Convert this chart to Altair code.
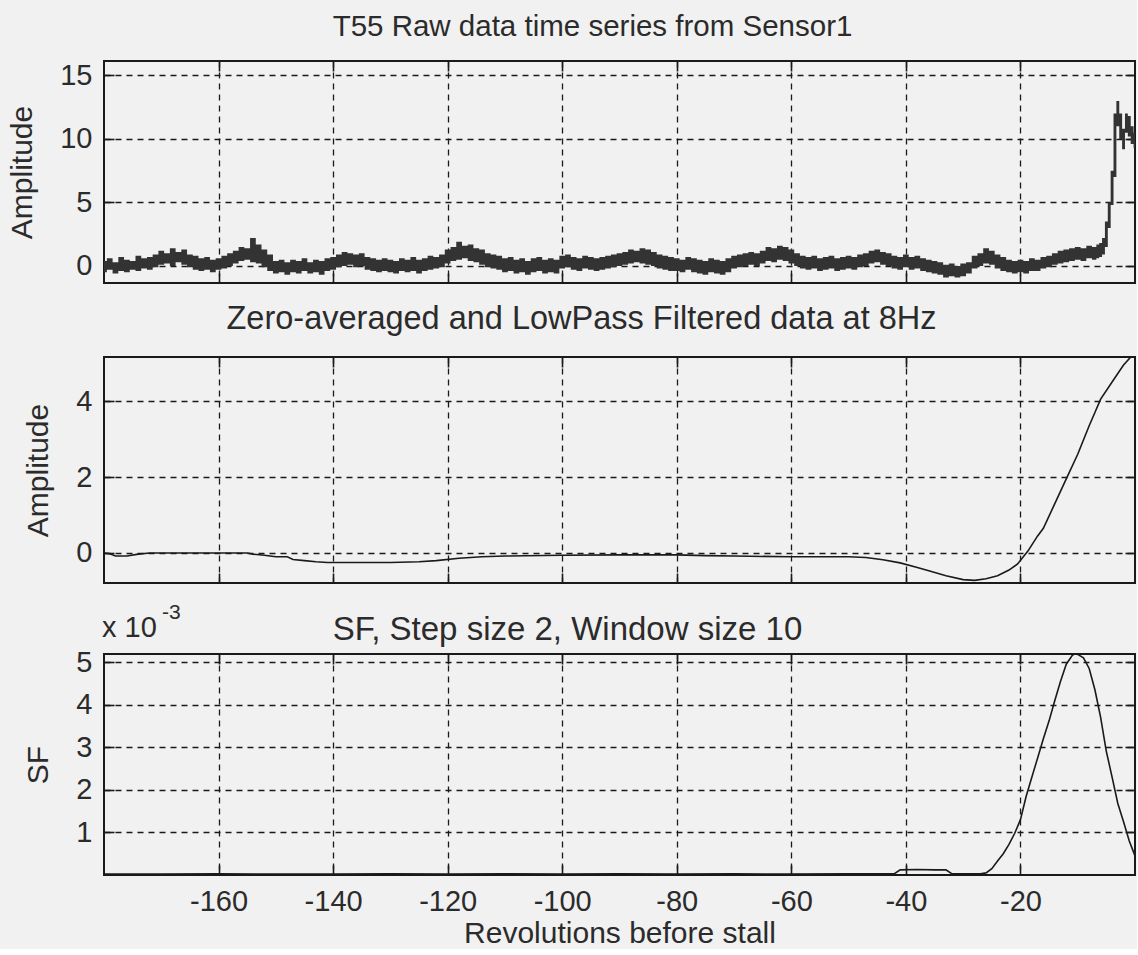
import altair as alt
import pandas as pd

# ---------------- data ----------------
# Panel 1: raw noisy trace, drawn as min/max envelope per revolution
REV1 = list(range(-180, -6)) + [-6.5, -6, -5.5, -5, -4.5, -4, -3.5, -3, -2.5, -2, -1.5, -1, -0.5, 0]
HI1 = [
    0.4, 0.6, 0.3, 0.7, 0.5, 0.4, 0.8, 0.6, 0.7, 0.9,
    1.2, 1.0, 1.4, 1.1, 1.3, 0.9, 0.8, 0.6, 0.7, 0.5,
    0.6, 0.8, 1.0, 1.2, 1.5, 1.4, 2.2, 1.7, 1.3, 0.9,
    0.4, 0.5, 0.3, 0.5, 0.4, 0.6, 0.3, 0.5, 0.4, 0.6,
    0.7, 0.9, 1.1, 1.0, 0.9, 1.0, 0.7, 0.6, 0.5, 0.6,
    0.5, 0.4, 0.6, 0.5, 0.7, 0.5, 0.6, 0.8, 0.7, 0.9,
    1.3, 1.5, 1.9, 1.6, 1.7, 1.4, 1.3, 1.0, 0.9, 0.8,
    0.6, 0.7, 0.5, 0.6, 0.4, 0.6, 0.7, 0.5, 0.6, 0.5,
    0.8, 0.9, 0.7, 0.6, 0.8, 0.7, 0.6, 0.7, 0.8, 0.9,
    1.0, 1.1, 1.3, 1.2, 1.4, 1.3, 1.1, 0.9, 0.8, 0.7,
    0.6, 0.5, 0.7, 0.6, 0.5, 0.4, 0.6, 0.5, 0.4, 0.6,
    0.8, 0.9, 1.0, 1.1, 1.0, 1.2, 1.5, 1.4, 1.6, 1.5,
    1.3, 1.0, 0.8, 0.7, 0.8, 0.6, 0.7, 0.8, 0.6, 0.7,
    0.8, 0.7, 0.9, 1.0, 1.2, 1.3, 1.1, 1.0, 0.8, 0.7,
    0.9, 0.7, 0.8, 0.6, 0.5, 0.4, 0.3, 0.1, 0.2, 0.0,
    0.2, 0.3, 0.8, 1.0, 1.4, 1.2, 0.9, 0.7, 0.5, 0.4,
    0.5, 0.4, 0.6, 0.5, 0.7, 0.8, 1.0, 1.2, 1.3, 1.4,
    1.5, 1.4, 1.6, 1.5,
    1.7, 1.8, 2.2, 3.5, 5.0, 7.5, 12.0, 13.0, 12.0, 10.8, 12.0, 11.8, 11.0, 10.5,
]
LO1 = [
    -0.5, -0.3, -0.6, -0.4, -0.5, -0.3, -0.4, -0.2, -0.3, -0.1,
    0.1, 0.2, 0.0, 0.3, 0.1, -0.1, -0.3, -0.4, -0.3, -0.5,
    -0.3, -0.2, 0.0, 0.2, 0.4, 0.5, 0.3, 0.2, -0.1, -0.4,
    -0.6, -0.5, -0.7, -0.5, -0.6, -0.4, -0.6, -0.5, -0.7, -0.4,
    -0.3, -0.1, 0.0, 0.1, -0.1, 0.0, -0.3, -0.4, -0.5, -0.4,
    -0.5, -0.6, -0.4, -0.5, -0.4, -0.6, -0.4, -0.3, -0.2, -0.1,
    0.2, 0.4, 0.5, 0.6, 0.4, 0.3, 0.1, -0.1, -0.2, -0.3,
    -0.5, -0.4, -0.6, -0.5, -0.7, -0.5, -0.4, -0.6, -0.5, -0.6,
    -0.2, -0.1, -0.3, -0.4, -0.2, -0.3, -0.4, -0.3, -0.2, -0.1,
    0.0, 0.1, 0.2, 0.3, 0.2, 0.1, 0.0, -0.2, -0.3, -0.4,
    -0.4, -0.5, -0.3, -0.5, -0.6, -0.7, -0.5, -0.6, -0.7, -0.5,
    -0.2, -0.1, 0.0, 0.1, 0.0, 0.2, 0.4, 0.3, 0.5, 0.4,
    0.2, 0.0, -0.2, -0.3, -0.2, -0.4, -0.3, -0.2, -0.4, -0.3,
    -0.2, -0.3, -0.1, 0.0, 0.2, 0.3, 0.1, 0.0, -0.2, -0.3,
    -0.1, -0.3, -0.2, -0.4, -0.5, -0.6, -0.7, -0.9, -0.8, -0.9,
    -0.8, -0.6, -0.2, 0.0, 0.2, 0.1, -0.2, -0.4, -0.5, -0.6,
    -0.5, -0.6, -0.4, -0.4, -0.2, -0.1, 0.1, 0.2, 0.3, 0.4,
    0.5, 0.4, 0.6, 0.5,
    0.6, 0.7, 0.9, 1.5, 3.0, 4.8, 7.0, 11.0, 10.0, 9.2, 10.5, 10.2, 9.6, 9.3,
]

# Panel 2: zero-averaged, low-pass filtered trace
REV2 = [-180, -179, -178, -176, -174, -172, -170, -160, -155, -154, -152, -150, -148, -147,
        -145, -143, -141, -130, -125, -122, -118, -114, -110, -100, -90, -80, -75, -70, -60,
        -55, -50, -47, -44, -41, -38, -36, -33, -30, -28, -26, -24, -22, -20.5, -18.7, -17,
        -16, -14, -12, -10, -8, -7, -6, -4, -2, -0.5]
AMP2 = [0.0, -0.02, -0.08, -0.08, -0.03, 0.0, 0.0, 0.0, 0.0, -0.03, -0.06, -0.1, -0.1, -0.17,
        -0.2, -0.23, -0.25, -0.25, -0.23, -0.2, -0.14, -0.1, -0.08, -0.06, -0.05, -0.05, -0.07,
        -0.08, -0.1, -0.1, -0.1, -0.12, -0.18, -0.26, -0.38, -0.47, -0.6, -0.7, -0.72, -0.68,
        -0.6, -0.45, -0.29, 0.05, 0.45, 0.65, 1.3, 1.95, 2.6, 3.35, 3.7, 4.05, 4.5, 4.95, 5.2]

# Panel 3: SF (units of 1e-3)
REV3 = [-180, -170, -160, -150, -140, -130, -120, -110, -100, -90, -80, -70, -60, -50, -45,
        -42, -41, -38, -35, -33, -32, -29, -27, -26, -25, -24, -23, -22, -21, -20, -19, -18,
        -17, -16, -15, -14, -13, -12, -11, -10.5, -10, -9, -8, -7, -6, -5, -4, -3, -2, -1, 0]
SF3 = [0.02, 0.02, 0.03, 0.02, 0.02, 0.03, 0.02, 0.03, 0.02, 0.03, 0.02, 0.03, 0.02, 0.03, 0.03,
       0.03, 0.12, 0.13, 0.12, 0.12, 0.03, 0.03, 0.03, 0.05, 0.15, 0.33, 0.5, 0.72, 0.98, 1.3,
       1.85, 2.3, 2.75, 3.2, 3.62, 4.1, 4.55, 4.95, 5.15, 5.2, 5.18, 5.1, 4.85, 4.35, 3.7, 2.9,
       2.3, 1.68, 1.25, 0.8, 0.45]

XTICKS = [-160, -140, -120, -100, -80, -60, -40, -20]
Y1TICKS = [0, 5, 10, 15]
Y2TICKS = [0, 2, 4]
Y3TICKS = [1, 2, 3, 4, 5]

TITLES = ["T55 Raw data time series from Sensor1",
          "Zero-averaged and LowPass Filtered data at 8Hz",
          "SF, Step size 2, Window size 10"]

# ---------------- style ----------------
FONT = "Liberation Sans"
TXT = "#2b2b2b"
INK = "#1a1a1a"
W = 1031
TICK = 10
LBL = "'' + datum.value"

df1 = pd.DataFrame({"rev": REV1, "hi": HI1, "lo": LO1})
df2 = pd.DataFrame({"rev": REV2, "amp": AMP2})
df3 = pd.DataFrame({"rev": REV3, "sf": SF3})

xscale = alt.Scale(domain=[-180, 0], nice=False, zero=False)


def x_axis(show_labels):
    kw = dict(orient="bottom", values=XTICKS, grid=True, gridDash=[6, 5], gridColor=INK,
              gridWidth=1.3, gridOpacity=1, domain=False, tickSize=TICK, tickColor=INK,
              tickWidth=1.6, offset=-TICK, labels=show_labels)
    if show_labels:
        kw.update(labelFont=FONT, labelFontSize=29, labelColor=TXT, labelPadding=12,
                  labelExpr=LBL,
                  title="Revolutions before stall", titleFont=FONT, titleFontSize=30,
                  titleFontWeight="normal", titleColor=TXT, titlePadding=2)
    else:
        kw.update(title=None)
    return alt.Axis(**kw)


def y_axis(ticks, title):
    return alt.Axis(orient="left", values=ticks, grid=True, gridDash=[6, 5], gridColor=INK,
                    gridWidth=1.3, gridOpacity=1, domain=False, tickSize=TICK, tickColor=INK,
                    tickWidth=1.6, offset=-TICK, labelFont=FONT, labelFontSize=29,
                    labelColor=TXT, labelPadding=12, labelExpr=LBL, title=title,
                    titleFont=FONT, titleFontSize=30, titleFontWeight="normal",
                    titleColor=TXT, titlePadding=22)


def top_axis():
    return alt.Axis(orient="top", values=XTICKS, grid=False, labels=False, domain=False,
                    tickSize=TICK, tickColor=INK, tickWidth=1.6, offset=-TICK, title=None)


def right_axis(ticks):
    return alt.Axis(orient="right", values=ticks, grid=False, labels=False, domain=False,
                    tickSize=TICK, tickColor=INK, tickWidth=1.6, offset=-TICK, title=None)


def ptitle(text, size, dx, offset, dy=0):
    return alt.TitleParams(text, font=FONT, fontSize=size, fontWeight="normal", color=TXT,
                           anchor="middle", dx=dx, dy=dy, offset=offset)


# Panel 1
y1 = alt.Scale(domain=[-1.34, 16.14], nice=False, zero=False)
p1_band = alt.Chart(df1).mark_area(interpolate="step", color="#333333", clip=True).encode(
    x=alt.X("rev:Q", scale=xscale, axis=x_axis(False)),
    y=alt.Y("hi:Q", scale=y1, axis=y_axis(Y1TICKS, "Amplitude")),
    y2="lo:Q",
)
p1_frame = alt.Chart(df1).mark_line(opacity=0).encode(
    x=alt.X("rev:Q", scale=xscale, axis=top_axis()),
    y=alt.Y("hi:Q", scale=y1, axis=right_axis(Y1TICKS)),
)
p1 = alt.layer(p1_band, p1_frame).properties(
    width=W, height=222, title=ptitle(TITLES[0], 29.5, -27, 18))

# Panel 2
y2 = alt.Scale(domain=[-0.79, 5.16], nice=False, zero=False)
p2_line = alt.Chart(df2).mark_line(color=INK, strokeWidth=1.6, clip=True).encode(
    x=alt.X("rev:Q", scale=xscale, axis=x_axis(False)),
    y=alt.Y("amp:Q", scale=y2, axis=y_axis(Y2TICKS, "Amplitude")),
)
p2_frame = alt.Chart(df2).mark_line(opacity=0).encode(
    x=alt.X("rev:Q", scale=xscale, axis=top_axis()),
    y=alt.Y("amp:Q", scale=y2, axis=right_axis(Y2TICKS)),
)
p2 = alt.layer(p2_line, p2_frame).properties(
    width=W, height=226, title=ptitle(TITLES[1], 32.5, -38, 20))

# Panel 3
y3 = alt.Scale(domain=[0, 5.19], nice=False, zero=False)
p3_line = alt.Chart(df3).mark_line(color=INK, strokeWidth=1.6, clip=True).encode(
    x=alt.X("rev:Q", scale=xscale, axis=x_axis(True)),
    y=alt.Y("sf:Q", scale=y3, axis=y_axis(Y3TICKS, "SF")),
)
p3_frame = alt.Chart(df3).mark_line(opacity=0).encode(
    x=alt.X("rev:Q", scale=xscale, axis=top_axis()),
    y=alt.Y("sf:Q", scale=y3, axis=right_axis(Y3TICKS)),
)
exp_base = alt.Chart(pd.DataFrame({"t": ["x 10"]})).mark_text(
    align="left", baseline="alphabetic", font=FONT, fontSize=29, color=TXT
).encode(text="t:N", x=alt.value(-2), y=alt.value(-17))
exp_sup = alt.Chart(pd.DataFrame({"t": ["-3"]})).mark_text(
    align="left", baseline="alphabetic", font=FONT, fontSize=21, color=TXT
).encode(text="t:N", x=alt.value(58), y=alt.value(-35))
p3 = alt.layer(p3_line, p3_frame, exp_base, exp_sup).properties(
    width=W, height=221, title=ptitle(TITLES[2], 33, -52, 0, 45))

chart = alt.vconcat(p1, p2, p3, spacing=16).configure(
    background="#f1f1f1", padding={"left": 6, "top": 10, "right": 0, "bottom": 0}
).configure_view(stroke=INK, strokeWidth=2)

chart.save("out.html", embed_options={"renderer": "svg", "actions": False})
